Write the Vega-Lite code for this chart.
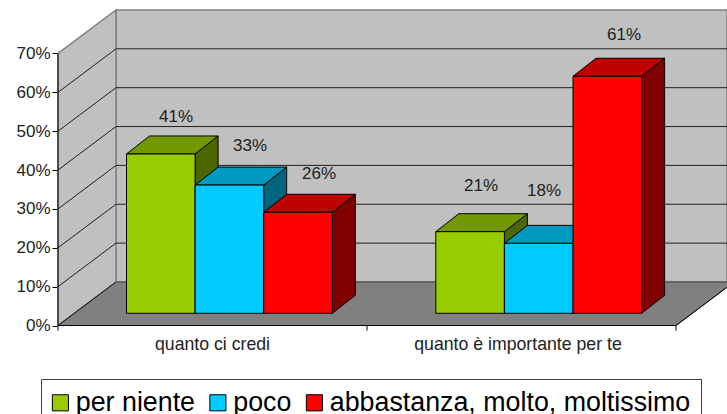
{"$schema":"https://vega.github.io/schema/vega-lite/v6.json","width":670,"height":414,"autosize":{"type":"none"},"padding":{"left":57,"top":0,"right":0,"bottom":0},"background":"white","config":{"view":{"stroke":null},"axisX":{"disable":true},"font":"Liberation Sans"},
"datasets":{"bars":[{"cat":"quanto ci credi","serie":"per niente","value":41},{"cat":"quanto ci credi","serie":"poco","value":33},{"cat":"quanto ci credi","serie":"abbastanza, molto, moltissimo","value":26},{"cat":"quanto è importante per te","serie":"per niente","value":21},{"cat":"quanto è importante per te","serie":"poco","value":18},{"cat":"quanto è importante per te","serie":"abbastanza, molto, moltissimo","value":61}],
"ticks":[{"pct":0},{"pct":10},{"pct":20},{"pct":30},{"pct":40},{"pct":50},{"pct":60},{"pct":70}]},
"layer":[
{"data":{"values":[{"part":"parete"}]},"transform":[{"calculate":"[116,727]","as":"fx"},{"calculate":"[11.2,11.2]","as":"fy"},{"calculate":"[81.2,81.2]","as":"fy2"},{"flatten":["fx","fy","fy2"]}],"mark":{"type":"area","fill":"#c0c0c0","stroke":"#808080","strokeWidth":1.5},"encoding":{"x":{"field":"fx","type":"quantitative","scale":{"domain":[57,727],"nice":false,"zero":false}},"y":{"field":"fy","type":"quantitative","scale":{"domain":[-22.77,83.76],"nice":false,"zero":false},"axis":{"values":[0,10,20,30,40,50,60,70],"labelExpr":"datum.value+'%'","title":null,"domain":false,"grid":false,"tickColor":"black","tickSize":5,"labelFontSize":17,"labelFont":"Liberation Sans","labelColor":"#222222","labelPadding":2}},"y2":{"field":"fy2"}}},
{"data":{"values":[{"part":"fianco"}]},"transform":[{"calculate":"[58,116]","as":"fx"},{"calculate":"[0,11.2]","as":"fy"},{"calculate":"[70,81.2]","as":"fy2"},{"flatten":["fx","fy","fy2"]}],"mark":{"type":"area","fill":"#c0c0c0","stroke":"#808080","strokeWidth":1.5},"encoding":{"x":{"field":"fx","type":"quantitative","scale":{"domain":[57,727],"nice":false,"zero":false}},"y":{"field":"fy","type":"quantitative","scale":{"domain":[-22.77,83.76],"nice":false,"zero":false},"axis":null},"y2":{"field":"fy2"}}},
{"data":{"values":[{"part":"pavimento"}]},"transform":[{"calculate":"[58,116,676,734]","as":"fx"},{"calculate":"[0,0,0,11.2]","as":"fy"},{"calculate":"[0,11.2,11.2,11.2]","as":"fy2"},{"flatten":["fx","fy","fy2"]}],"mark":{"type":"area","fill":"#808080","stroke":"#404040","strokeWidth":1},"encoding":{"x":{"field":"fx","type":"quantitative","scale":{"domain":[57,727],"nice":false,"zero":false}},"y":{"field":"fy","type":"quantitative","scale":{"domain":[-22.77,83.76],"nice":false,"zero":false},"axis":null},"y2":{"field":"fy2"}}},
{"data":{"name":"ticks"},"transform":[{"filter":"datum.pct>0 && datum.pct<70"},{"calculate":"116","as":"gx"},{"calculate":"727","as":"gx2"},{"calculate":"datum.pct+11.2","as":"gy"}],"mark":{"type":"rule","stroke":"#202020","strokeWidth":1},"encoding":{"x":{"field":"gx","type":"quantitative","scale":{"domain":[57,727],"nice":false,"zero":false}},"x2":{"field":"gx2"},"y":{"field":"gy","type":"quantitative","scale":{"domain":[-22.77,83.76],"nice":false,"zero":false},"axis":null}}},
{"data":{"name":"ticks"},"transform":[{"filter":"datum.pct<70"},{"calculate":"58","as":"gx"},{"calculate":"116","as":"gx2"},{"calculate":"datum.pct+11.2","as":"gy2"}],"mark":{"type":"rule","stroke":"#202020","strokeWidth":1},"encoding":{"x":{"field":"gx","type":"quantitative","scale":{"domain":[57,727],"nice":false,"zero":false}},"x2":{"field":"gx2"},"y":{"field":"pct","type":"quantitative","scale":{"domain":[-22.77,83.76],"nice":false,"zero":false},"axis":null},"y2":{"field":"gy2"}}},
{"data":{"values":[{"part":"asse"}]},"transform":[{"calculate":"58","as":"gx"},{"calculate":"0","as":"a"},{"calculate":"70","as":"b"}],"mark":{"type":"rule","stroke":"black","strokeWidth":1},"encoding":{"x":{"field":"gx","type":"quantitative","scale":{"domain":[57,727],"nice":false,"zero":false}},"y":{"field":"a","type":"quantitative","scale":{"domain":[-22.77,83.76],"nice":false,"zero":false},"axis":null},"y2":{"field":"b"}}},
{"data":{"values":[{"part":"bordo"}]},"transform":[{"calculate":"[58,676]","as":"gx"},{"calculate":"[676,734]","as":"gx2"},{"calculate":"[0,0]","as":"a"},{"calculate":"[0,11.2]","as":"b"},{"flatten":["gx","gx2","a","b"]}],"mark":{"type":"rule","stroke":"black","strokeWidth":1},"encoding":{"x":{"field":"gx","type":"quantitative","scale":{"domain":[57,727],"nice":false,"zero":false}},"x2":{"field":"gx2"},"y":{"field":"a","type":"quantitative","scale":{"domain":[-22.77,83.76],"nice":false,"zero":false},"axis":null},"y2":{"field":"b"}}},
{"data":{"values":[{"part":"t"}]},"transform":[{"calculate":"[58,367,676]","as":"gx"},{"calculate":"0","as":"a"},{"calculate":"-1.3","as":"b"},{"flatten":["gx"]}],"mark":{"type":"rule","stroke":"black","strokeWidth":1},"encoding":{"x":{"field":"gx","type":"quantitative","scale":{"domain":[57,727],"nice":false,"zero":false}},"y":{"field":"a","type":"quantitative","scale":{"domain":[-22.77,83.76],"nice":false,"zero":false},"axis":null},"y2":{"field":"b"}}},
{"data":{"name":"bars"},"transform":[{"calculate":"126.5+indexof(['quanto ci credi','quanto è importante per te'],datum.cat)*309.3+indexof(['per niente','poco','abbastanza, molto, moltissimo'],datum.serie)*68.6","as":"x0"},{"calculate":"datum.x0+68.6","as":"x1"},{"calculate":"datum.value+3.14","as":"yt"},{"calculate":"[datum.x1,datum.x1+23]","as":"fx"},{"calculate":"[3.14,7.77]","as":"fy"},{"calculate":"[datum.yt,datum.yt+4.63]","as":"fy2"},{"flatten":["fx","fy","fy2"]}],"mark":{"type":"area","stroke":"black","strokeWidth":1},"encoding":{"x":{"field":"fx","type":"quantitative","scale":{"domain":[57,727],"nice":false,"zero":false}},"y":{"field":"fy","type":"quantitative","scale":{"domain":[-22.77,83.76],"nice":false,"zero":false},"axis":null},"y2":{"field":"fy2"},"detail":{"field":"cat"},"color":{"field":"serie","type":"nominal","legend":null,"scale":{"domain":["per niente","poco","abbastanza, molto, moltissimo"],"range":["#4d6600","#006680","#800000"]}}}},
{"data":{"name":"bars"},"transform":[{"calculate":"126.5+indexof(['quanto ci credi','quanto è importante per te'],datum.cat)*309.3+indexof(['per niente','poco','abbastanza, molto, moltissimo'],datum.serie)*68.6","as":"x0"},{"calculate":"datum.x0+68.6","as":"x1"},{"calculate":"datum.value+3.14","as":"yt"},{"calculate":"[datum.x0,datum.x0+23,datum.x1,datum.x1+23]","as":"fx"},{"calculate":"[datum.yt,datum.yt,datum.yt,datum.yt+4.63]","as":"fy"},{"calculate":"[datum.yt,datum.yt+4.63,datum.yt+4.63,datum.yt+4.63]","as":"fy2"},{"flatten":["fx","fy","fy2"]}],"mark":{"type":"area","stroke":"black","strokeWidth":1},"encoding":{"x":{"field":"fx","type":"quantitative","scale":{"domain":[57,727],"nice":false,"zero":false}},"y":{"field":"fy","type":"quantitative","scale":{"domain":[-22.77,83.76],"nice":false,"zero":false},"axis":null},"y2":{"field":"fy2"},"detail":{"field":"cat"},"color":{"field":"serie","type":"nominal","legend":null,"scale":{"domain":["per niente","poco","abbastanza, molto, moltissimo"],"range":["#739900","#0099bf","#bf0000"]}}}},
{"data":{"name":"bars"},"transform":[{"calculate":"126.5+indexof(['quanto ci credi','quanto è importante per te'],datum.cat)*309.3+indexof(['per niente','poco','abbastanza, molto, moltissimo'],datum.serie)*68.6","as":"x0"},{"calculate":"datum.x0+68.6","as":"x1"},{"calculate":"datum.value+3.14","as":"yt"},{"calculate":"3.14","as":"yb"}],"mark":{"type":"rect","stroke":"black","strokeWidth":1},"encoding":{"x":{"field":"x0","type":"quantitative","scale":{"domain":[57,727],"nice":false,"zero":false}},"x2":{"field":"x1"},"y":{"field":"yb","type":"quantitative","scale":{"domain":[-22.77,83.76],"nice":false,"zero":false},"axis":null},"y2":{"field":"yt"},"color":{"field":"serie","type":"nominal","scale":{"domain":["per niente","poco","abbastanza, molto, moltissimo"],"range":["#99cc00","#00ccff","#ff0000"]},"legend":{"orient":"none","legendX":-16,"legendY":379,"direction":"horizontal","columns":3,"title":null,"fillColor":"white","strokeColor":"#404040","padding":10,"symbolType":"square","symbolSize":260,"symbolOffset":-4,"symbolStrokeColor":"black","symbolStrokeWidth":1,"symbolOpacity":1,"labelFont":"Liberation Sans","labelFontSize":26.8,"labelColor":"black","labelLimit":500,"labelOffset":2,"columnPadding":12.5}}}},
{"data":{"name":"bars"},"transform":[{"calculate":"datum.value+'%'","as":"label"},{"calculate":"({41:176,33:250,26:319,21:481,18:544,61:624})[datum.value]","as":"lx"},{"calculate":"(325.5-({41:117,33:146,26:174,21:186,18:191,61:35})[datum.value])/3.886","as":"ly"}],"mark":{"type":"text","font":"Liberation Sans","fontSize":17,"color":"#222222","align":"center","baseline":"middle"},"encoding":{"x":{"field":"lx","type":"quantitative","scale":{"domain":[57,727],"nice":false,"zero":false}},"y":{"field":"ly","type":"quantitative","scale":{"domain":[-22.77,83.76],"nice":false,"zero":false},"axis":null},"text":{"field":"label"}}},
{"data":{"values":[{"cat":"quanto ci credi"},{"cat":"quanto è importante per te"}]},"transform":[{"calculate":"datum.cat=='quanto ci credi'?212.5:518","as":"lx"},{"calculate":"-4.9","as":"ly"}],"mark":{"type":"text","font":"Liberation Sans","fontSize":17.7,"color":"#222222","align":"center","baseline":"middle"},"encoding":{"x":{"field":"lx","type":"quantitative","scale":{"domain":[57,727],"nice":false,"zero":false}},"y":{"field":"ly","type":"quantitative","scale":{"domain":[-22.77,83.76],"nice":false,"zero":false},"axis":null},"text":{"field":"cat"}}}
],"resolve":{"scale":{"color":"independent"},"axis":{"y":"independent"}}}
